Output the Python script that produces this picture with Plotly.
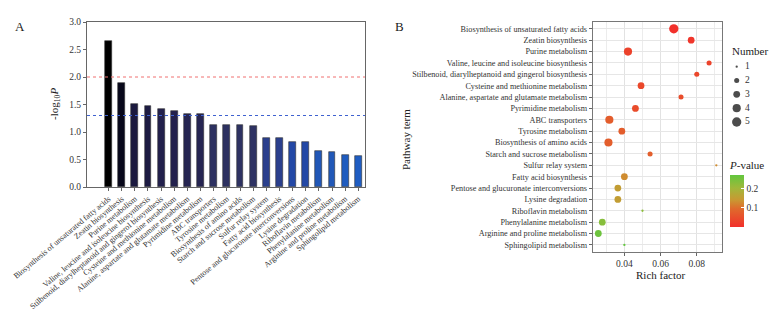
import numpy as np
import plotly.graph_objects as go

# page offset of the plot div (default body margin) compensated
OFF = 8
W, H = 779 - OFF, 310 - OFF
FONT = "Liberation Serif"

pathways = [
    "Biosynthesis of unsaturated fatty acids",
    "Zeatin biosynthesis",
    "Purine metabolism",
    "Valine, leucine and isoleucine biosynthesis",
    "Stilbenoid, diarylheptanoid and gingerol biosynthesis",
    "Cysteine and methionine metabolism",
    "Alanine, aspartate and glutamate metabolism",
    "Pyrimidine metabolism",
    "ABC transporters",
    "Tyrosine metabolism",
    "Biosynthesis of amino acids",
    "Starch and sucrose metabolism",
    "Sulfur relay system",
    "Fatty acid biosynthesis",
    "Pentose and glucuronate interconversions",
    "Lysine degradation",
    "Riboflavin metabolism",
    "Phenylalanine metabolism",
    "Arginine and proline metabolism",
    "Sphingolipid metabolism",
]
neg_log_p = [2.66, 1.90, 1.51, 1.48, 1.41, 1.39, 1.32, 1.32, 1.13, 1.13,
             1.12, 1.11, 0.89, 0.89, 0.82, 0.82, 0.65, 0.64, 0.59, 0.57]
rich_factor = [0.0673, 0.0769, 0.0420, 0.0868, 0.0800, 0.0492, 0.0713, 0.0461,
               0.0317, 0.0386, 0.0312, 0.0542, 0.0908, 0.0400, 0.0364, 0.0364,
               0.0500, 0.0278, 0.0256, 0.0400]
gene_number = [5, 3, 4, 2, 2, 3, 2, 3, 4, 3, 4, 2, 1, 3, 3, 3, 1, 3, 3, 1]
p_values = [0.0022, 0.0126, 0.031, 0.033, 0.039, 0.041, 0.048, 0.048, 0.074, 0.074,
            0.076, 0.078, 0.129, 0.129, 0.151, 0.151, 0.224, 0.229, 0.257, 0.269]
thresholds = [2.0, 1.3]
legend_numbers = [1, 2, 3, 4, 5]
cbar_ticks = [0.1, 0.2]
rich_ticks = [0.04, 0.06, 0.08]


def px_x(p):
    return (p - OFF) / W


def px_y(p):
    return 1 - (p - OFF) / H


def diam(n):
    dmin, dmax = 2.3, 9.3
    n = np.asarray(n, dtype=float)
    return np.sqrt(dmin ** 2 + (dmax ** 2 - dmin ** 2) * (n - 1) / 4.0)


bar_scale = [[0.0, "#1f5dc2"], [0.04, "#2157b6"], [0.12, "#2348a6"],
             [0.16, "#2b3d88"], [0.26, "#2e3262"], [0.4, "#22204c"],
             [0.5, "#141232"], [0.64, "#08081a"], [1.0, "#000000"]]
p_scale = [[0.0, "#f2302b"], [0.35, "#df6a2c"], [0.52, "#c99832"],
           [0.75, "#a0b83a"], [1.0, "#62c63e"]]

fig = go.Figure()

# Panel A: bars
fig.add_trace(go.Bar(
    x=pathways, y=neg_log_p, xaxis="x", yaxis="y",
    width=0.53,
    marker=dict(color=neg_log_p, colorscale=bar_scale,
                cmin=min(neg_log_p), cmax=max(neg_log_p),
                line=dict(color="#333333", width=0.6)),
    showlegend=False, hoverinfo="x+y",
))

# Panel B: bubbles
fig.add_trace(go.Scatter(
    x=rich_factor, y=pathways, xaxis="x2", yaxis="y2", mode="markers",
    marker=dict(size=diam(gene_number), color=p_values, colorscale=p_scale,
                cmin=min(p_values), cmax=max(p_values), opacity=1,
                line=dict(width=0),
                colorbar=dict(
                    title=dict(text="<i>P</i>-value", side="top",
                               font=dict(family=FONT, size=11, color="#222")),
                    x=px_x(730), xanchor="left", xpad=0,
                    y=px_y(192.5), yanchor="middle", ypad=0,
                    lenmode="pixels", len=69, thickness=14,
                    outlinewidth=0, tickvals=cbar_ticks, ticktext=["0.1", "0.2"],
                    ticks="inside", ticklen=3, tickcolor="white",
                    tickfont=dict(family=FONT, size=9.5, color="#333"))),
    showlegend=False,
))

# Number legend (size key)
fig.add_trace(go.Scatter(
    x=[6.7] * len(legend_numbers), y=legend_numbers, xaxis="x3", yaxis="y3",
    mode="markers", marker=dict(size=diam(legend_numbers), color="black", line=dict(width=0)),
    showlegend=False, hoverinfo="skip",
))
fig.add_trace(go.Scatter(
    x=[15] * len(legend_numbers), y=legend_numbers, xaxis="x3", yaxis="y3",
    mode="text", text=[str(n) for n in legend_numbers], textposition="middle right",
    textfont=dict(family=FONT, size=9.5, color="#333"),
    showlegend=False, hoverinfo="skip",
))

shapes = []
for val, col in zip(thresholds, ["#f07070", "#3f62d0"]):
    shapes.append(dict(type="line", xref="x domain", yref="y", x0=0, x1=1,
                       y0=val, y1=val, line=dict(color=col, width=1, dash="3px,3px")))


def ann(text, x, y, size=11, angle=0, xanchor="center"):
    return dict(text=text, x=px_x(x), y=px_y(y), xref="paper", yref="paper",
                xanchor=xanchor, yanchor="middle", showarrow=False, textangle=angle,
                font=dict(family=FONT, size=size, color="#222"))


annotations = [
    ann("A", 20, 27, size=13),
    ann("B", 399, 27, size=13),
    ann("-log<sub>10</sub><i>P</i>", 55, 104, angle=-90),
    ann("Pathway term", 406, 140, angle=-90),
    ann("Rich factor", 661, 275),
    ann("Number", 730, 51, xanchor="left"),
]

fig.update_layout(
    width=W, height=H, margin=dict(l=0, r=0, t=0, b=0, autoexpand=False),
    paper_bgcolor="white", plot_bgcolor="white",
    font=dict(family=FONT, color="#333"),
    shapes=shapes, annotations=annotations, bargap=0,
    xaxis=dict(domain=[px_x(87), px_x(365)], range=[-1.64, 19.51], automargin=False,
               type="category", tickangle=-40, tickfont=dict(family=FONT, size=8, color="#333"),
               ticks="outside", ticklen=3, tickcolor="#666", showline=True, linecolor="#666",
               linewidth=1, mirror=True, showgrid=False, zeroline=False, anchor="y"),
    yaxis=dict(domain=[px_y(187), px_y(22)], range=[0, 3.0], dtick=0.5, tickformat=".1f",
               automargin=False,
               tickfont=dict(family=FONT, size=9.5, color="#333"),
               ticks="outside", ticklen=3, tickcolor="#666", showline=True, linecolor="#666",
               linewidth=1, mirror=True, showgrid=False, zeroline=False, anchor="x"),
    xaxis2=dict(domain=[px_x(592.7), px_x(722.3)], range=[0.0225, 0.0941], automargin=False,
                tickvals=rich_ticks, ticktext=["0.04", "0.06", "0.08"],
                tickfont=dict(family=FONT, size=9.5, color="#333"),
                ticks="outside", ticklen=3, tickcolor="#666", showline=True, linecolor="#777",
                linewidth=1, mirror=True, showgrid=True, gridcolor="#e2e2e2", gridwidth=1,
                minor=dict(dtick=0.01, tick0=0, showgrid=True, gridcolor="#ececec", gridwidth=0.8),
                zeroline=False, anchor="y2"),
    yaxis2=dict(domain=[px_y(251.7), px_y(22)], type="category", range=[19.6, -0.6],
                automargin=False,
                tickfont=dict(family=FONT, size=8.2, color="#333"),
                ticks="outside", ticklen=3, tickcolor="#666", showline=True, linecolor="#777",
                linewidth=1, mirror=True, showgrid=True, gridcolor="#e6e6e6", gridwidth=1,
                zeroline=False, anchor="x2"),
    xaxis3=dict(domain=[px_x(730), px_x(770)], range=[0, 40], visible=False,
                automargin=False, fixedrange=True, anchor="y3"),
    yaxis3=dict(domain=[px_y(128.9), px_y(59.8)], range=[5.5, 0.5], visible=False,
                automargin=False, fixedrange=True, anchor="x3"),
)

fig.write_html("out.html")
